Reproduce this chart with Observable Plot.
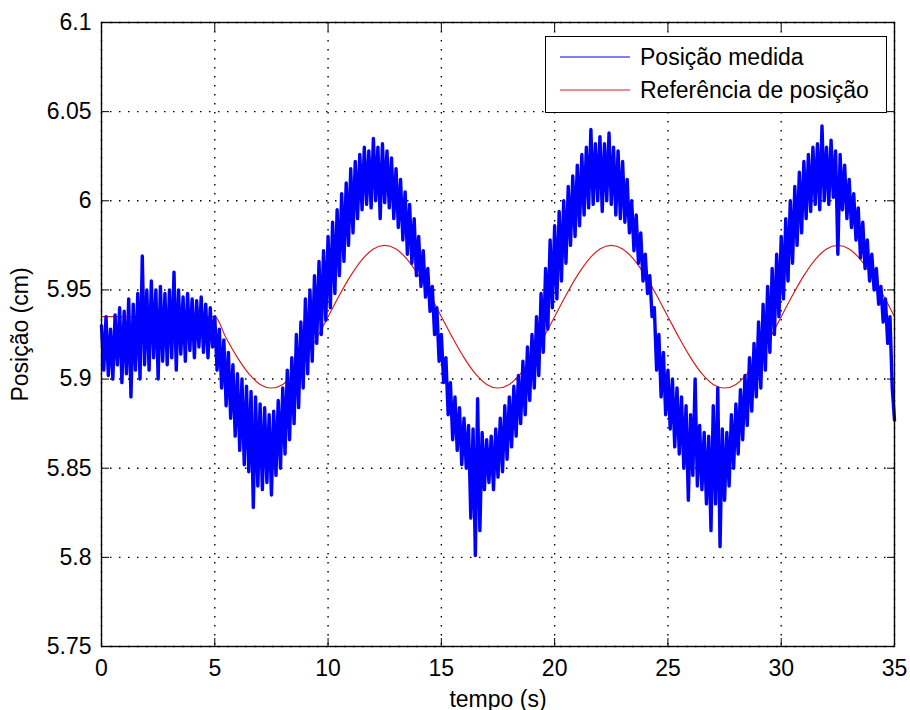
<!DOCTYPE html>
<html><head><meta charset="utf-8">
<script src="https://cdn.jsdelivr.net/npm/d3@7"></script>
<script src="https://cdn.jsdelivr.net/npm/@observablehq/plot@0.6"></script>
<style>
body{margin:0;background:#fff;}
#wrap{position:relative;width:910px;height:710px;font-family:"Liberation Sans",Arial,sans-serif;}
#legend{position:absolute;left:545px;top:36px;width:340px;height:75px;border:1px solid #000;background:#fff;}
</style></head><body><div id="wrap"></div>
<script>
const xTicks = [0,5,10,15,20,25,30,35];
const xTickLabels = ["0","5","10","15","20","25","30","35"];
const yTicks = [5.75,5.8,5.85,5.9,5.95,6.0,6.05,6.1];
const yTickLabels = ["5.75","5.8","5.85","5.9","5.95","6","6.05","6.1"];
const seriesNames = ["Posição medida","Referência de posição"];
const seriesColors = ["#0000ff","#d42020"];

const measStep = 0.1;
const measured = [
5.930,5.905,5.935,5.902,5.928,5.900,5.936,5.908,5.940,5.898,
5.938,5.903,5.945,5.890,5.942,5.905,5.948,5.900,5.969,5.908,
5.950,5.905,5.955,5.912,5.950,5.900,5.952,5.910,5.948,5.908,
5.950,5.912,5.960,5.905,5.950,5.914,5.946,5.910,5.948,5.916,
5.945,5.912,5.944,5.918,5.946,5.915,5.942,5.912,5.940,5.918,
5.935,5.905,5.928,5.895,5.922,5.885,5.915,5.878,5.908,5.868,
5.903,5.860,5.900,5.852,5.896,5.848,5.893,5.828,5.890,5.840,
5.886,5.838,5.884,5.842,5.880,5.835,5.882,5.846,5.888,5.850,
5.895,5.858,5.905,5.866,5.912,5.875,5.925,5.884,5.932,5.895,
5.945,5.903,5.950,5.910,5.958,5.920,5.966,5.925,5.972,5.933,
5.980,5.940,5.988,5.948,5.995,5.958,6.004,5.966,6.010,5.975,
6.018,5.982,6.022,5.990,6.026,5.995,6.030,5.998,6.028,5.996,
6.035,6.000,6.030,5.990,6.032,5.999,6.028,5.996,6.024,5.990,
6.018,5.985,6.012,5.978,6.005,5.970,5.998,5.965,5.990,5.958,
5.980,5.952,5.972,5.946,5.962,5.938,5.952,5.925,5.940,5.910,
5.925,5.898,5.912,5.880,5.898,5.866,5.890,5.860,5.884,5.852,
5.878,5.850,5.874,5.822,5.872,5.801,5.889,5.815,5.870,5.838,
5.866,5.842,5.868,5.838,5.872,5.845,5.878,5.848,5.885,5.855,
5.890,5.862,5.896,5.868,5.902,5.875,5.910,5.880,5.918,5.888,
5.925,5.895,5.935,5.902,5.948,5.915,5.962,5.928,5.978,5.940,
5.986,5.945,5.994,5.955,6.000,5.965,6.008,5.975,6.014,5.980,
6.020,5.986,6.026,5.992,6.030,5.996,6.040,5.998,6.032,6.000,
6.036,5.994,6.032,6.000,6.038,5.998,6.030,5.992,6.028,5.990,
6.022,5.988,6.012,5.982,6.000,5.972,5.992,5.965,5.982,5.955,
5.970,5.948,5.958,5.935,5.940,5.905,5.925,5.890,5.915,5.880,
5.905,5.872,5.900,5.862,5.895,5.858,5.890,5.850,5.885,5.832,
5.880,5.846,5.900,5.840,5.874,5.838,5.870,5.830,5.868,5.815,
5.885,5.830,5.895,5.806,5.872,5.832,5.870,5.840,5.880,5.850,
5.886,5.858,5.894,5.866,5.902,5.874,5.912,5.882,5.920,5.890,
5.932,5.895,5.942,5.905,5.952,5.915,5.962,5.925,5.970,5.935,
5.980,5.945,5.990,5.955,6.000,5.965,6.008,5.975,6.016,5.982,
6.022,5.990,6.026,5.994,6.030,5.998,6.032,5.995,6.042,6.000,
6.030,5.998,6.034,6.002,6.028,5.970,6.026,5.995,6.020,5.990,
6.012,5.985,6.004,5.978,5.996,5.968,5.988,5.962,5.978,5.955,
5.970,5.950,5.962,5.942,5.952,5.932,5.945,5.920,5.935,5.895,
5.877
];

const refStep = 0.5;
const reference = [
5.935,5.935,5.935,5.935,5.935,5.935,5.935,5.935,5.935,5.935,
5.935,5.923,5.912,5.903,5.897,5.895,5.897,5.903,5.912,5.923,
5.935,5.947,5.958,5.967,5.973,5.975,5.973,5.967,5.958,5.947,
5.935,5.923,5.912,5.903,5.897,5.895,5.897,5.903,5.912,5.923,
5.935,5.947,5.958,5.967,5.973,5.975,5.973,5.967,5.958,5.947,
5.935,5.923,5.912,5.903,5.897,5.895,5.897,5.903,5.912,5.923,
5.935,5.947,5.958,5.967,5.973,5.975,5.973,5.967,5.958,5.947,
5.935
];

const measData = measured.map((v, i) => ({t: +(i * measStep).toFixed(2), v}));
const refData = reference.map((v, i) => ({t: i * refStep, v}));

const gridStyle = {stroke: "#000", strokeOpacity: 1, strokeWidth: 1.4, strokeDasharray: "1.5,7.5"};
const blank = () => "";

const chart = Plot.plot({
  width: 910, height: 710,
  marginLeft: 101, marginRight: 16, marginTop: 22, marginBottom: 64,
  style: {fontFamily: "'Liberation Sans', Arial, sans-serif", fontSize: "23px", color: "#000", background: "#fff"},
  x: {domain: [0, 35]},
  y: {domain: [5.75, 6.1]},
  marks: [
    Plot.gridX(xTicks, gridStyle),
    Plot.gridY(yTicks, gridStyle),
    Plot.line(refData, {x: "t", y: "v", stroke: seriesColors[1], strokeWidth: 1.2, curve: "monotone-x"}),
    Plot.line(measData, {x: "t", y: "v", stroke: seriesColors[0], strokeWidth: 3.4, strokeLinejoin: "round"}),
    Plot.frame({stroke: "#000", strokeWidth: 1.4}),
    Plot.axisX(xTicks, {anchor: "bottom", tickSize: -8, tickFormat: blank, label: null}),
    Plot.axisX(xTicks, {anchor: "top", tickSize: -8, tickFormat: blank, label: null}),
    Plot.axisY(yTicks, {anchor: "left", tickSize: -8, tickFormat: blank, label: null}),
    Plot.axisY(yTicks, {anchor: "right", tickSize: -8, tickFormat: blank, label: null}),
    Plot.axisX(xTicks, {anchor: "bottom", tickSize: 0, tickPadding: 13,
      tickFormat: d => xTickLabels[xTicks.indexOf(d)],
      label: "tempo (s)", labelAnchor: "center", labelOffset: 60, labelArrow: "none"}),
    Plot.axisY(yTicks, {anchor: "left", tickSize: 0, tickPadding: 10,
      tickFormat: d => yTickLabels[yTicks.indexOf(d)],
      label: "Posição (cm)", labelAnchor: "center", labelOffset: 90, labelArrow: "none"})
  ]
});

const wrap = document.getElementById("wrap");
wrap.appendChild(chart);

// legend box inside the axes
const leg = d3.select(wrap).append("div").attr("id", "legend")
  .append("svg").attr("width", 340).attr("height", 75)
  .style("font-family", "'Liberation Sans', Arial, sans-serif").style("font-size", "23px");
seriesNames.forEach((name, i) => {
  const y = 20 + i * 33;
  leg.append("line").attr("x1", 14).attr("x2", 84).attr("y1", y).attr("y2", y)
    .attr("stroke", seriesColors[i]).attr("stroke-width", 1.2);
  leg.append("text").attr("x", 94).attr("y", y + 8).attr("fill", "#000").text(name);
});
</script>
</body></html>
